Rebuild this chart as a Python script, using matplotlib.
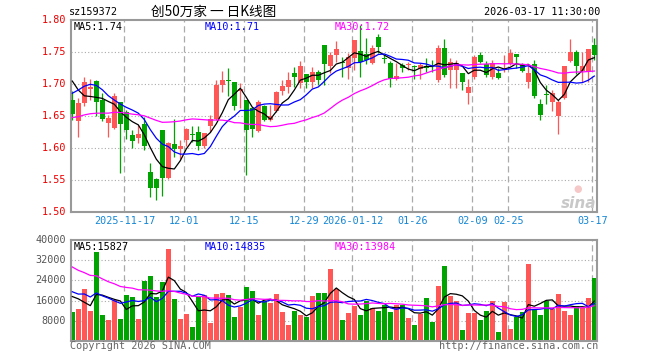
import matplotlib
matplotlib.use('Agg')
import matplotlib.pyplot as plt
import numpy as np
import pandas as pd

# ---------------- data ----------------
tick_index = [9, 19, 29, 39, 47, 57, 67, 73, 87]
tick_labels = ['2025-11-17', '12-01', '12-15', '12-29', '2026-01-12',
               '01-26', '02-09', '02-25', '03-17']

open_ = [1.6755, 1.643, 1.671, 1.693, 1.705, 1.6755, 1.640, 1.632, 1.672, 1.657,
         1.621, 1.616, 1.638, 1.563, 1.552, 1.6286, 1.554, 1.607, 1.599, 1.613,
         1.6224, 1.625, 1.6036, 1.635, 1.646, 1.6995, 1.706, 1.7036, 1.6896, 1.6755,
         1.6625, 1.627, 1.666, 1.644, 1.659, 1.690, 1.6963, 1.718, 1.7015, 1.716,
         1.704, 1.719, 1.7614, 1.728, 1.745, 1.734, 1.725, 1.741, 1.752, 1.747,
         1.733, 1.774, 1.741, 1.733, 1.709, 1.730, 1.730, 1.728, 1.724, 1.728,
         1.726, 1.707, 1.756, 1.722, 1.722, 1.717, 1.687, 1.712, 1.746, 1.731,
         1.712, 1.717, 1.725, 1.731, 1.747, 1.731, 1.704, 1.731, 1.669, 1.684,
         1.672, 1.651, 1.678, 1.736, 1.750, 1.721, 1.720, 1.761]
high = [1.689, 1.678, 1.711, 1.708, 1.706, 1.687, 1.652, 1.687, 1.673, 1.660,
        1.6286, 1.636, 1.6495, 1.5766, 1.553, 1.629, 1.610, 1.646, 1.613, 1.631,
        1.635, 1.635, 1.624, 1.652, 1.707, 1.721, 1.725, 1.704, 1.7016, 1.6755,
        1.664, 1.6755, 1.667, 1.668, 1.690, 1.706, 1.720, 1.7275, 1.737, 1.716,
        1.7275, 1.722, 1.762, 1.750, 1.767, 1.743, 1.749, 1.770, 1.792, 1.772,
        1.761, 1.778, 1.746, 1.737, 1.734, 1.734, 1.735, 1.730, 1.734, 1.741,
        1.738, 1.761, 1.771, 1.741, 1.738, 1.718, 1.709, 1.745, 1.750, 1.736,
        1.738, 1.725, 1.746, 1.755, 1.747, 1.733, 1.731, 1.738, 1.677, 1.699,
        1.691, 1.675, 1.728, 1.771, 1.754, 1.751, 1.755, 1.772]
low = [1.644, 1.617, 1.666, 1.676, 1.650, 1.643, 1.617, 1.630, 1.561, 1.6146,
       1.601, 1.609, 1.597, 1.5245, 1.520, 1.526, 1.5526, 1.586, 1.584, 1.604,
       1.6104, 1.597, 1.600, 1.626, 1.644, 1.6885, 1.681, 1.660, 1.6625, 1.558,
       1.618, 1.626, 1.642, 1.643, 1.657, 1.684, 1.686, 1.6963, 1.6936, 1.6936,
       1.6936, 1.699, 1.699, 1.718, 1.735, 1.712, 1.709, 1.722, 1.712, 1.731,
       1.731, 1.749, 1.734, 1.696, 1.707, 1.719, 1.723, 1.709, 1.709, 1.720,
       1.720, 1.704, 1.712, 1.694, 1.694, 1.691, 1.670, 1.709, 1.733, 1.712,
       1.709, 1.709, 1.720, 1.730, 1.725, 1.720, 1.694, 1.679, 1.644, 1.670,
       1.658, 1.623, 1.677, 1.735, 1.716, 1.704, 1.704, 1.738]
close = [1.654, 1.671, 1.704, 1.696, 1.673, 1.646, 1.647, 1.682, 1.6385, 1.6286,
         1.612, 1.622, 1.604, 1.5385, 1.5385, 1.554, 1.609, 1.5984, 1.6036, 1.630,
         1.6203, 1.6036, 1.6234, 1.6453, 1.6995, 1.7068, 1.705, 1.666, 1.692, 1.6286,
         1.6297, 1.673, 1.645, 1.651, 1.6885, 1.697, 1.7067, 1.712, 1.7285, 1.704,
         1.7197, 1.706, 1.732, 1.746, 1.755, 1.733, 1.743, 1.769, 1.735, 1.738,
         1.756, 1.759, 1.740, 1.709, 1.713, 1.726, 1.731, 1.727, 1.730, 1.726,
         1.725, 1.756, 1.715, 1.735, 1.733, 1.704, 1.696, 1.742, 1.735, 1.715,
         1.733, 1.710, 1.726, 1.749, 1.743, 1.721, 1.717, 1.681, 1.652, 1.683,
         1.686, 1.672, 1.728, 1.750, 1.729, 1.728, 1.755, 1.746]
volume = [11600, 12800, 20400, 12000, 35300, 10400, 8400, 16400, 8800, 18400,
          17600, 8800, 23700, 25600, 17600, 23200, 36400, 16800, 8800, 10800,
          5700, 17700, 18400, 7200, 18800, 19200, 18400, 9600, 13600, 21200,
          20000, 10400, 15700, 15200, 18800, 11600, 6400, 12000, 10100, 9700,
          17700, 19200, 19200, 28500, 20400, 8400, 11200, 13700, 10400, 16000,
          13200, 12000, 14400, 11600, 14400, 14400, 9200, 6400, 10800, 17200,
          7600, 21600, 29700, 17700, 16000, 4400, 11200, 11200, 8400, 12000,
          16000, 3600, 15600, 4800, 9700, 11600, 30400, 12400, 10100, 16000,
          12500, 18500, 12000, 10400, 14000, 13000, 17000, 24800]

# estimated closes / volumes of the 29 sessions before the window (seed the MAs)
prior_close = [1.63, 1.62, 1.64, 1.65, 1.64, 1.65, 1.64, 1.6475,
               1.66, 1.66, 1.65, 1.655, 1.645, 1.645, 1.6445,
               1.60, 1.58, 1.57, 1.573, 1.58,
               1.62, 1.645, 1.666, 1.69, 1.714,
               1.741, 1.749, 1.701, 1.68]
prior_volume = [52000, 48000, 45000, 40000, 47000, 42000, 41000, 40500,
                30000, 26000, 28000, 25000, 29000, 27000, 26900,
                30000, 25000, 28000, 26600, 27000,
                22000, 20000, 24000, 19000, 22000,
                17300, 27200, 18700, 13200]

price_ticks = [1.50, 1.55, 1.60, 1.65, 1.70, 1.75, 1.80]
volume_ticks = [8000, 16000, 24000, 32000, 40000]
ma_periods = [5, 10, 30]
price_ma_text = ['MA5:1.74', 'MA10:1.71', 'MA30:1.72']
volume_ma_text = ['MA5:15827', 'MA10:14835', 'MA30:13984']

# ---------------- styling ----------------
W, H = 660, 360
RED = '#ff5656'
GREEN = '#00a400'
MA_COLORS = ['#000000', '#0000ff', '#ff00ff']
GRID = '#aaaaaa'
BORDER = '#999999'
DATE_BLUE = '#1587d6'
MONO = 'DejaVu Sans Mono'

plt.rcParams['font.family'] = [MONO, 'Noto Sans CJK SC']


def fx(x):
    return x / W


def fy(y):
    return 1 - y / H


n = len(close)
x = np.arange(n)
o = np.array(open_)
c = np.array(close)
hi = np.array(high)
lo = np.array(low)
v = np.array(volume)
up = c >= o
colors = np.where(up, RED, GREEN)


def moving(prior, values, p):
    s = pd.Series(list(prior) + list(values))
    return s.rolling(p).mean().values[len(prior):]


fig = plt.figure(figsize=(W / 100, H / 100), dpi=100)
fig.patch.set_facecolor('white')

L, R = 70.7, 597.3
xlim = (-0.27, n - 0.5)
grid_x = [t - 0.33 for t in tick_index]

# main price panel
ax = fig.add_axes([fx(L), fy(212.3), fx(R - L), (212.3 - 20.3) / H])
ax.set_xlim(*xlim)
ax.set_ylim(1.50, 1.80)
for yv in price_ticks[1:-1]:
    ax.axhline(yv, color=GRID, lw=0.8, ls=(0, (1, 2)), zorder=0)
for gx in grid_x:
    ax.axvline(gx, color=GRID, lw=0.9, ls=(0, (5, 3)), zorder=0)

ax.vlines(x, lo, hi, colors=colors, lw=0.9, zorder=2)
body_bottom = np.minimum(o, c)
body_h = np.maximum(np.abs(c - o), 0.0012)
ax.bar(x, body_h, bottom=body_bottom, width=0.8, color=colors, lw=0, zorder=3)

for p, col in zip(ma_periods, MA_COLORS):
    ax.plot(x, moving(prior_close, close, p), color=col, lw=0.9, zorder=4)

ax.set_xticks([])
ax.set_yticks([])
for s in ax.spines.values():
    s.set_color(BORDER)
    s.set_linewidth(1.5)

# price tick labels (left, red)
for t in price_ticks:
    ypx = 212.3 - (t - 1.50) / 0.30 * 192.0
    fig.text(fx(66), fy(ypx), f'{t:.2f}', color='#ee0000', fontsize=7.3,
             ha='right', va='center', family=MONO)

# date labels
for gx, lab in zip(grid_x, tick_labels):
    xpx = L + (gx - xlim[0]) / (xlim[1] - xlim[0]) * (R - L)
    fig.text(fx(xpx), fy(221.5), lab, color=DATE_BLUE, fontsize=7.3,
             ha='center', va='center', family=MONO)

# MA legend texts (price)
for txt, col, xpx in zip(price_ma_text, MA_COLORS, [74, 205, 335]):
    fig.text(fx(xpx), fy(26.5), txt, color=col, fontsize=7.3,
             ha='left', va='center', family=MONO)

# sina watermark
fig.text(fx(596), fy(203), 'sina', color='#c8c8c8', fontsize=11,
         fontweight='bold', style='italic', ha='right', va='center',
         family='DejaVu Sans')
fig.text(fx(578), fy(189), '\u25cf', color='#f6c8c8', fontsize=7,
         ha='center', va='center', family='DejaVu Sans')

# volume panel
VT, VB = 240.0, 341.0
ax2 = fig.add_axes([fx(L), fy(VB), fx(R - L), (VB - VT) / H])
ax2.set_xlim(*xlim)
ax2.set_ylim(0, 40000)
for yv in volume_ticks[:-1]:
    ax2.axhline(yv, color=GRID, lw=0.8, ls=(0, (1, 2)), zorder=0)
for gx in grid_x:
    ax2.axvline(gx, color=GRID, lw=0.9, ls=(0, (5, 3)), zorder=0)
ax2.bar(x, v, width=0.82, color=colors, lw=0, zorder=2)
for p, col in zip(ma_periods, MA_COLORS):
    ax2.plot(x, moving(prior_volume, volume, p), color=col, lw=0.9, zorder=4)
ax2.set_xticks([])
ax2.set_yticks([])
for s in ax2.spines.values():
    s.set_color(BORDER)
    s.set_linewidth(1.5)

for t in volume_ticks:
    ypx = VB - t / 40000 * (VB - VT)
    fig.text(fx(66), fy(ypx), str(t), color='#555555', fontsize=7.3,
             ha='right', va='center', family=MONO)

for txt, col, xpx in zip(volume_ma_text, MA_COLORS, [74, 205, 335]):
    fig.text(fx(xpx), fy(246.5), txt, color=col, fontsize=7.3,
             ha='left', va='center', family=MONO)

# header
fig.text(fx(69), fy(12), 'sz159372', color='#000000', fontsize=7.3,
         ha='left', va='center', family=MONO)
fig.text(fx(151), fy(12), '创50万家 一 日K线图', color='#000000', fontsize=9.8,
         ha='left', va='center', family=['Noto Sans CJK SC', MONO])
fig.text(fx(600), fy(12), '2026-03-17 11:30:00', color='#000000', fontsize=7.3,
         ha='right', va='center', family=MONO)

# footer
fig.text(fx(70), fy(346), 'Copyright 2026 SINA.COM', color='#666666',
         fontsize=7.3, ha='left', va='center', family=MONO)
fig.text(fx(598), fy(346), 'http://finance.sina.com.cn', color='#666666',
         fontsize=7.3, ha='right', va='center', family=MONO)

fig.savefig('out.png', dpi=100, facecolor='white')
